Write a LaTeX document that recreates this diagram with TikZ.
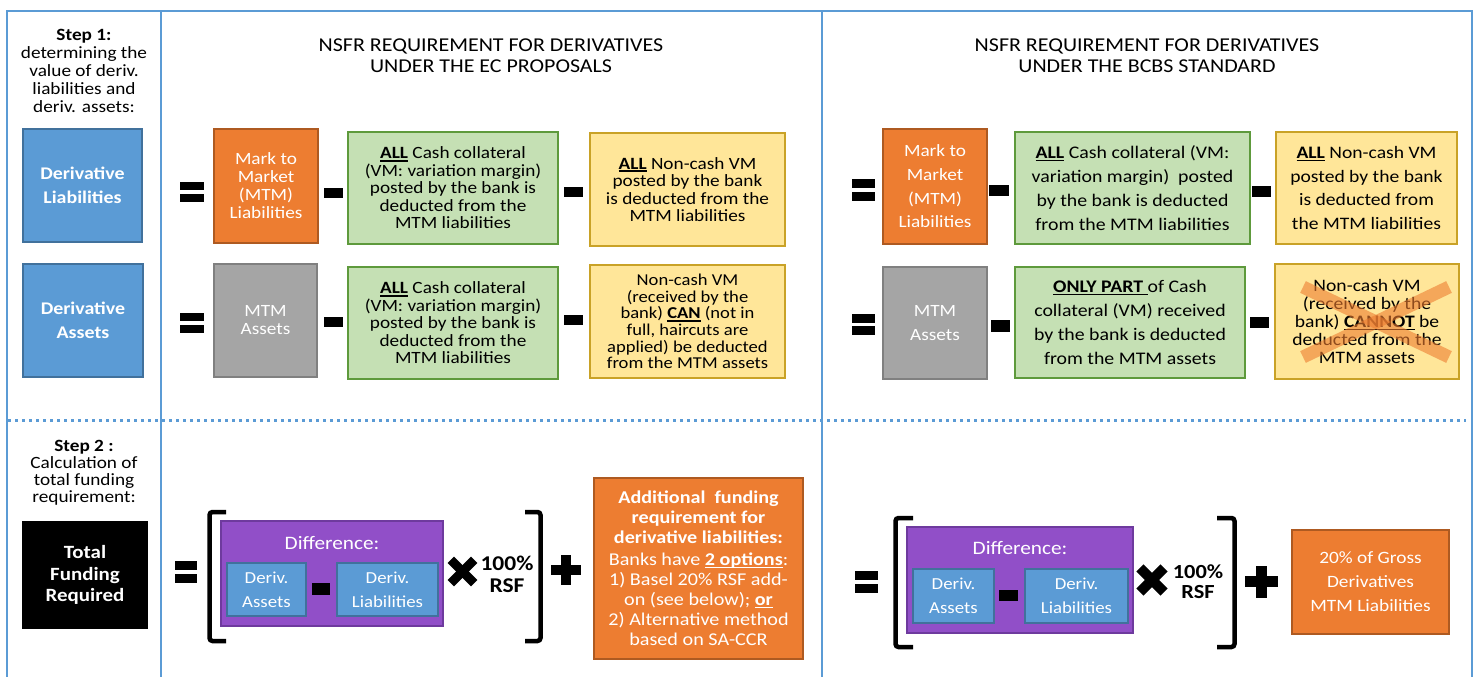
\documentclass[tikz,border=0pt]{standalone}
\usepackage{fontspec}
\setmainfont{Carlito}[FakeStretch=1.12]
\definecolor{linec}{HTML}{5B9BD5}
\definecolor{cblue}{HTML}{5B9BD5}
\definecolor{cblueD}{HTML}{41719C}
\definecolor{corange}{HTML}{ED7D31}
\definecolor{corangeD}{HTML}{AE5A21}
\definecolor{cgrey}{HTML}{A5A5A5}
\definecolor{cgreyD}{HTML}{808080}
\definecolor{cgreen}{HTML}{C5E0B4}
\definecolor{cgreenD}{HTML}{5E9A3C}
\definecolor{cyellow}{HTML}{FFE699}
\definecolor{cyellowD}{HTML}{C9A227}
\definecolor{cpurple}{HTML}{914FC8}
\definecolor{cpurpleD}{HTML}{6E3A9E}
\newcommand{\setfs}[2]{\fontsize{#1}{#2}\selectfont}
\newcommand{\myul}[1]{\leavevmode\setbox0\hbox{#1}\rlap{\copy0}\rule[-2.6pt]{\wd0}{1.3pt}}
\tikzset{
  sz/.style 2 args={minimum width=#1pt, minimum height=#2pt},
  frame/.style={draw=linec, line width=2.6pt},
  dotline/.style={draw=linec, line width=3pt, dash pattern=on 3pt off 4pt},
  txt/.style={inner sep=0pt, align=center, text=black},
  box/.style={draw, line width=1.3pt, inner sep=0pt, align=center},
  bluebox/.style={box, fill=cblue, draw=cblueD, text=white, font=\bfseries\setfs{17.8}{24}},
  blackbox/.style={box, fill=black, draw=black, text=white, font=\bfseries\setfs{18.7}{21.5}},
  orangebox/.style={box, fill=corange, draw=corangeD, text=white},
  greybox/.style={box, fill=cgrey, draw=cgreyD, text=white},
  greenbox/.style={box, fill=cgreen, draw=cgreenD, text=black},
  yellowbox/.style={box, fill=cyellow, draw=cyellowD, text=black},
  purplebox/.style={box, fill=cpurple, draw=cpurpleD},
  derivbox/.style={box, fill=cblue, draw=cblueD, text=white, font=\setfs{16.8}{24}},
  hdr/.style={txt, font=\setfs{19.6}{21}},
  bar/.style={fill=black, draw=none, inner sep=0pt},
  brk/.style={draw=black, line width=4.5pt, rounded corners=3pt},
  cross/.style={draw=corange, line width=13pt, opacity=0.6},
}
\begin{document}
\begin{tikzpicture}[x=1pt,y=-1pt]
\useasboundingbox (0,0) rectangle (1478,677);
% frame
\draw[frame] (7,677) -- (7,11) -- (1472,11) -- (1472,677);
\draw[frame] (161,11) -- (161,677);
\draw[frame] (822,11) -- (822,677);
\draw[dotline] (8,420) -- (1466,420);

% left column
\node[txt, font=\setfs{17.2}{18}] (s1) at (84,71) {\textbf{Step 1:}\\determining the\\value of deriv.\\liabilities and\\deriv. assets:};
\node[bluebox, sz={119}{113}] (dl) at (82.5,185.5) {Derivative\\Liabilities};
\node[bluebox, sz={120}{113}] (da) at (83,320.5) {Derivative\\Assets};
\node[txt, font=\setfs{17.2}{17}] (s2) at (84,473) {\textbf{Step 2 :}\\Calculation of\\total funding\\requirement:};
\node[blackbox, sz={124}{106}] (tf) at (85,575) {Total\\Funding\\Required};

% headers
\node[hdr] (h1) at (491,56) {NSFR REQUIREMENT FOR DERIVATIVES\\UNDER THE EC PROPOSALS};
\node[hdr] (h2) at (1147,56) {NSFR REQUIREMENT FOR DERIVATIVES\\UNDER THE BCBS STANDARD};

% ===== EC row 1
\node[bar, sz={24}{8}] (ec1ea) at (192,186) {};
\node[bar, sz={24}{8}] (ec1eb) at (192,198) {};
\node[orangebox, sz={104}{114}, font=\setfs{17.2}{18}] (ec1o) at (266,186) {Mark to\\Market\\(MTM)\\Liabilities};
\node[bar, sz={19}{10}] (ec1m1) at (333,193) {};
\node[greenbox, sz={210}{112}, font=\setfs{17.2}{17.5}] (ec1g) at (453,188) {\myul{\textbf{ALL}} Cash collateral\\(VM: variation margin)\\posted by the bank is\\deducted from the\\MTM liabilities};
\node[bar, sz={19}{10}] (ec1m2) at (573,192) {};
\node[yellowbox, sz={195}{113}, font=\setfs{17.2}{17.5}] (ec1y) at (687.5,189.5) {\myul{\textbf{ALL}} Non-cash VM\\posted by the bank\\is deducted from the\\MTM liabilities};

% ===== EC row 2
\node[bar, sz={24}{8}] (ec2ea) at (192,316.5) {};
\node[bar, sz={24}{8}] (ec2eb) at (192,328.5) {};
\node[greybox, sz={103}{113}, font=\setfs{17.2}{18}] (ec2o) at (265.5,320.5) {MTM\\Assets};
\node[bar, sz={19}{10}] (ec2m1) at (333,322) {};
\node[greenbox, sz={210}{112}, font=\setfs{17.2}{17.5}] (ec2g) at (453,323) {\myul{\textbf{ALL}} Cash collateral\\(VM: variation margin)\\posted by the bank is\\deducted from the\\MTM liabilities};
\node[bar, sz={19}{10}] (ec2m2) at (573,320) {};
\node[yellowbox, sz={195}{113}, font=\setfs{16.6}{16.6}] (ec2y) at (687.5,321.5) {Non-cash VM\\(received by the\\bank) \myul{\textbf{CAN}} (not in\\full, haircuts are\\applied) be deducted\\from the MTM assets};

% ===== BCBS row 1
\node[bar, sz={23}{9}] (bc1ea) at (863.5,183.5) {};
\node[bar, sz={23}{9}] (bc1eb) at (863.5,196) {};
\node[orangebox, sz={104}{115}, font=\setfs{17.2}{23.7}] (bc1o) at (935,186.5) {Mark to\\Market\\(MTM)\\Liabilities};
\node[bar, sz={20}{11}] (bc1m1) at (999,190) {};
\node[greenbox, sz={235}{112}, font=\setfs{17.7}{24}] (bc1g) at (1132.5,188) {\myul{\textbf{ALL}} Cash collateral (VM:\\variation margin)\ \ posted\\by the bank is deducted\\from the MTM liabilities};
\node[bar, sz={19}{11}] (bc1m2) at (1261.5,191.5) {};
\node[yellowbox, sz={181}{112}, font=\setfs{17.5}{23.5}] (bc1y) at (1366.5,188) {\myul{\textbf{ALL}} Non-cash VM\\posted by the bank\\is deducted from\\the MTM liabilities};

% ===== BCBS row 2
\node[bar, sz={23}{9}] (bc2ea) at (863.5,318) {};
\node[bar, sz={23}{9}] (bc2eb) at (863.5,330) {};
\node[greybox, sz={104}{112}, font=\setfs{17.2}{24}] (bc2o) at (935,323) {MTM\\Assets};
\node[bar, sz={19}{12}] (bc2m1) at (1000,326) {};
\node[greenbox, sz={230}{111}, font=\setfs{17.7}{24}] (bc2g) at (1130,322.5) {\myul{\textbf{ONLY PART\ }}of Cash\\collateral (VM) received\\by the bank is deducted\\from the MTM assets};
\node[bar, sz={19}{11}] (bc2m2) at (1259.5,322.5) {};
\node[yellowbox, sz={184}{115}, font=\setfs{17.5}{18}] (bc2y) at (1367,321.5) {Non-cash VM\\(received by the\\bank) \myul{\textbf{CANNOT}} be\\deducted from the\\MTM assets};
\draw[cross] (1303,287) -- (1449,357);
\draw[cross] (1303,357) -- (1449,287);

% ===== EC step 2
\node[bar, sz={22}{9}] (ec3ea) at (186,565) {};
\node[bar, sz={22}{9}] (ec3eb) at (186,578) {};
\draw[brk] (226,512) -- (209.5,512) -- (209.5,641) -- (226,641);
\node[purplebox, sz={222}{105}] (ec3p) at (332,573.5) {};
\node[txt, text=white, font=\setfs{19}{22}] (ec3d) at (332,543) {Difference:};
\node[derivbox, sz={79}{53}] (ec3a) at (266.5,589.5) {Deriv.\\Assets};
\node[bar, sz={18}{12}] (ec3m) at (320.5,589) {};
\node[derivbox, sz={101}{53}] (ec3l) at (387.5,589.5) {Deriv.\\Liabilities};
\node[bar, sz={33}{9}, rotate=45] (ec3xa) at (462.5,571.5) {};
\node[bar, sz={33}{9}, rotate=-45] (ec3xb) at (462.5,571.5) {};
\node[txt, font=\bfseries\setfs{21}{22}] (ec3r) at (507,574) {100\%\\RSF};
\draw[brk] (525,512) -- (540.5,512) -- (540.5,641) -- (525,641);
\node[bar, sz={30}{10}] (ec3pa) at (566,570) {};
\node[bar, sz={10}{30}] (ec3pb) at (566,570) {};
\node[orangebox, sz={209}{181}, font=\setfs{18}{20}] (ec3add) at (698.5,568.5) {\textbf{Additional\ \ funding}\\\textbf{requirement for}\\\textbf{derivative liabilities:}\\[2pt]Banks have \myul{\textbf{2 options}}:\\1) Basel 20\% RSF add-\\on (see below); \myul{\textbf{or}}\\2) Alternative method\\based on SA-CCR};

% ===== BCBS step 2
\node[bar, sz={23}{9}] (bc3ea) at (866.5,575.5) {};
\node[bar, sz={23}{9}] (bc3eb) at (866.5,588) {};
\draw[brk] (913,518) -- (895.5,518) -- (895.5,647) -- (913,647);
\node[purplebox, sz={226}{106}] (bc3p) at (1020,580) {};
\node[txt, text=white, font=\setfs{19}{22}] (bc3d) at (1020,548) {Difference:};
\node[derivbox, sz={81}{54}] (bc3a) at (953.5,596) {Deriv.\\Assets};
\node[bar, sz={19}{11}] (bc3m) at (1008.5,595.5) {};
\node[derivbox, sz={103}{54}] (bc3l) at (1076.5,596) {Deriv.\\Liabilities};
\node[bar, sz={34}{10}, rotate=45] (bc3xa) at (1152,580) {};
\node[bar, sz={34}{10}, rotate=-45] (bc3xb) at (1152,580) {};
\node[txt, font=\bfseries\setfs{20}{20}] (bc3r) at (1198,582) {100\%\\RSF};
\draw[brk] (1217,518) -- (1234.5,518) -- (1234.5,647) -- (1217,647);
\node[bar, sz={33}{11}] (bc3pa) at (1261,581.5) {};
\node[bar, sz={11}{32}] (bc3pb) at (1261,581.5) {};
\node[orangebox, sz={157}{104}, font=\setfs{17.3}{24}] (bc3add) at (1370.5,582) {20\% of Gross\\Derivatives\\MTM Liabilities};
\end{tikzpicture}
\end{document}
